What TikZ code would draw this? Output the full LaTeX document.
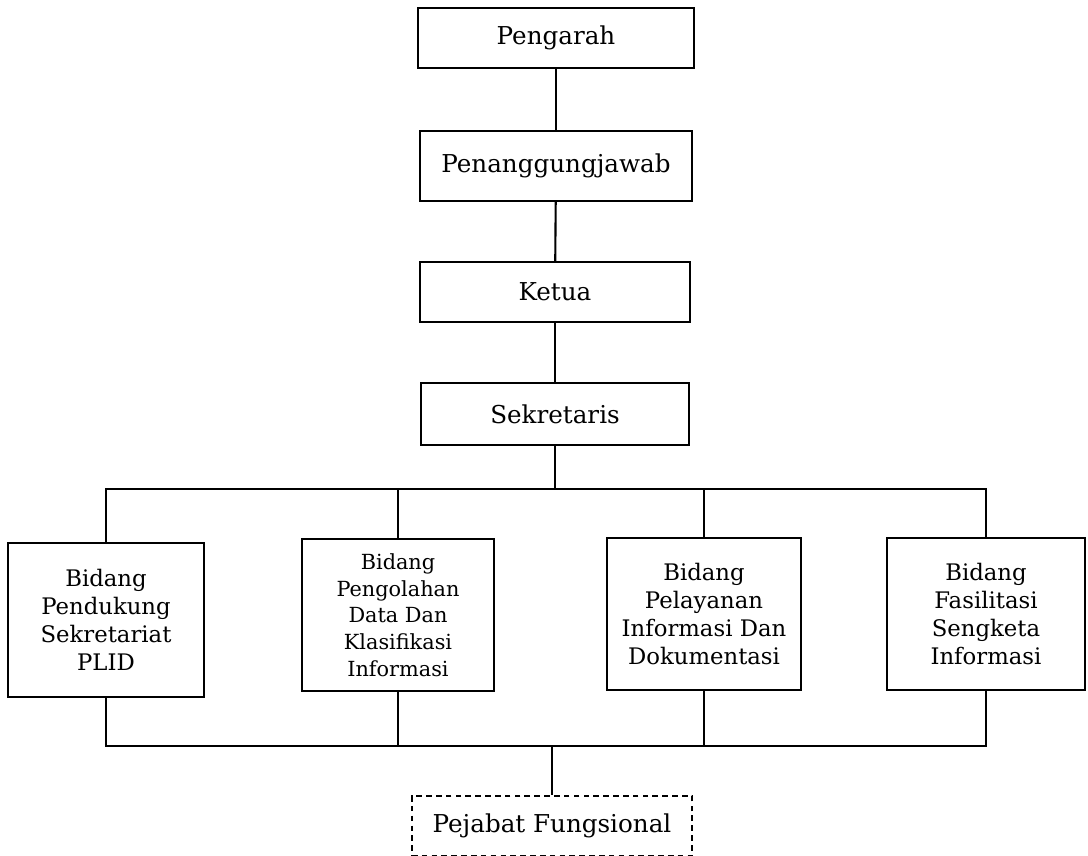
\documentclass[tikz,border=0pt]{standalone}
\usepackage{fontspec}
\setmainfont{DejaVu Serif}
\usetikzlibrary{positioning}

\begin{document}
\begin{tikzpicture}[x=0.025cm, y=-0.025cm,
    jabatan/.style={draw, line width=1.5pt, align=center, inner sep=2pt, font=\fontsize{17.5}{21}\selectfont},
    bidang/.style={jabatan, font=\fontsize{16.2}{20}\selectfont},
    garis/.style={line width=1.5pt}]
    \useasboundingbox (0,0) rectangle (1088,856);

    % Pimpinan (vertical chain)
    \node[jabatan, minimum width=6.9cm, minimum height=1.5cm] (pengarah) at (556, 38) {Pengarah};
    \node[jabatan, minimum width=6.8cm, minimum height=1.75cm] (pj) at (556, 166) {Penanggungjawab};
    \node[jabatan, minimum width=6.75cm, minimum height=1.5cm] (ketua) at (555, 292) {Ketua};
    \node[jabatan, minimum width=6.7cm, minimum height=1.55cm] (sekretaris) at (555, 414) {Sekretaris};

    % Bidang
    \node[bidang, minimum width=4.9cm, minimum height=3.85cm] (b1) at (106, 620) {Bidang\\Pendukung\\Sekretariat\\PLID};
    \node[bidang, font=\fontsize{14.8}{19}\selectfont, minimum width=4.8cm, minimum height=3.8cm] (b2) at (398, 615) {Bidang\\Pengolahan\\Data Dan\\Klasifikasi\\Informasi};
    \node[bidang, minimum width=4.85cm, minimum height=3.8cm] (b3) at (704, 614) {Bidang\\Pelayanan\\Informasi Dan\\Dokumentasi};
    \node[bidang, minimum width=4.95cm, minimum height=3.8cm] (b4) at (986, 614) {Bidang\\Fasilitasi\\Sengketa\\Informasi};

    % Pejabat fungsional (dashed)
    \node[jabatan, dash pattern=on 4pt off 3pt, minimum width=7cm, minimum height=1.5cm] (pejabat) at (552, 826) {Pejabat Fungsional};

    % Connectors
    \coordinate (bustop) at (555, 489);
    \coordinate (busbot) at (552, 746);
    \draw[garis] (pengarah) -- (pj);
    \draw[garis] (pj) -- (ketua);
    \draw[garis] (ketua) -- (sekretaris);
    \draw[garis] (sekretaris) -- (bustop);
    \draw[garis] (b1.north) |- (b4.north |- bustop) -- (b4.north);
    \draw[garis] (b2.north) -- (b2.north |- bustop);
    \draw[garis] (b3.north) -- (b3.north |- bustop);
    \draw[garis] (b1.south) |- (b4.south |- busbot) -- (b4.south);
    \draw[garis] (b2.south) -- (b2.south |- busbot);
    \draw[garis] (b3.south) -- (b3.south |- busbot);
    \draw[garis] (pejabat) -- (busbot);
\end{tikzpicture}
\end{document}
